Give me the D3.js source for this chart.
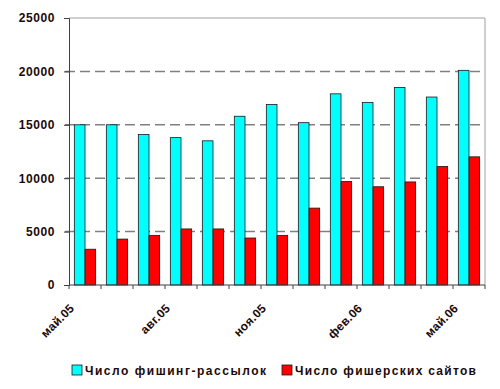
<!DOCTYPE html>
<html>
<head>
<meta charset="utf-8">
<script src="https://cdn.jsdelivr.net/npm/d3@7"></script>
<style>
  body { margin: 0; background: #fff; }
  text { font-family: Arial, "Liberation Sans", sans-serif; }
</style>
</head>
<body>
<div id="chart"></div>
<script>
const months = ['май.05', 'июн.05', 'июл.05', 'авг.05', 'сен.05', 'окт.05', 'ноя.05',
    'дек.05', 'янв.06', 'фев.06', 'мар.06', 'апр.06', 'май.06'];
const mailings = [15000, 15000, 14100, 13800, 13500, 15800, 16900, 15200, 17900, 17100, 18500, 17600, 20100];
const sites = [3350, 4300, 4650, 5250, 5250, 4400, 4650, 7200, 9700, 9200, 9650, 11100, 12000];
const yTicks = [0, 5000, 10000, 15000, 20000, 25000];
const seriesNames = ['Число фишинг-рассылок', 'Число фишерских сайтов'];
const seriesColors = ['#00ffff', '#ff0000'];

const width = 500, height = 389;
const margin = { top: 18, right: 15, bottom: 104, left: 69 };
const innerW = width - margin.left - margin.right;
const innerH = height - margin.top - margin.bottom;

const svg = d3.select('#chart').append('svg')
    .attr('width', width)
    .attr('height', height);

const chart = svg.append('g')
    .attr('transform', `translate(${margin.left},${margin.top})`);

const xScale = d3.scaleBand()
    .domain(months)
    .range([0, innerW])
    .paddingInner(0)
    .paddingOuter(0);

const xSub = d3.scaleBand()
    .domain([0, 1])
    .range([0, xScale.bandwidth()])
    .paddingOuter(0.5)
    .paddingInner(0);

const yScale = d3.scaleLinear()
    .domain([0, 25000])
    .range([innerH, 0]);

// dashed gridlines
chart.selectAll('.grid')
    .data(yTicks.filter(t => t > 0 && t < 25000))
    .join('line')
    .attr('class', 'grid')
    .attr('x1', -4)
    .attr('x2', innerW)
    .attr('y1', d => yScale(d))
    .attr('y2', d => yScale(d))
    .attr('stroke', '#808080')
    .attr('stroke-width', 1.5)
    .attr('stroke-dasharray', '10,5');

// plot area border top/right
chart.append('path')
    .attr('d', `M0,0H${innerW}V${innerH}`)
    .attr('fill', 'none')
    .attr('stroke', '#a0a0a0')
    .attr('stroke-width', 1);

const data = months.map((m, i) => ({ month: m, values: [mailings[i], sites[i]] }));

const groups = chart.selectAll('.month')
    .data(data)
    .join('g')
    .attr('class', 'month')
    .attr('transform', d => `translate(${xScale(d.month)},0)`);

groups.selectAll('rect')
    .data(d => d.values.map((v, k) => ({ k, v })))
    .join('rect')
    .attr('x', d => xSub(d.k))
    .attr('width', xSub.bandwidth())
    .attr('y', d => yScale(d.v))
    .attr('height', d => innerH - yScale(d.v))
    .attr('fill', d => seriesColors[d.k])
    .attr('stroke', '#1a1a1a')
    .attr('stroke-width', 0.8);

// y axis
const yAxis = d3.axisLeft(yScale)
    .tickValues(yTicks)
    .tickFormat(d3.format('d'))
    .tickSize(5)
    .tickPadding(9);

const yAxisGroup = chart.append('g').call(yAxis);
yAxisGroup.select('.domain').attr('stroke', '#404040');
yAxisGroup.selectAll('.tick line').attr('stroke', '#404040');
yAxisGroup.selectAll('.tick text')
    .style('font-size', '12px')
    .style('font-weight', 'bold')
    .style('letter-spacing', '0.6px')
    .attr('fill', '#1a0a0a');

// x axis: ticks at category boundaries
const xAxisGroup = chart.append('g')
    .attr('transform', `translate(0,${innerH})`);

xAxisGroup.append('line')
    .attr('x1', 0)
    .attr('x2', innerW)
    .attr('stroke', '#404040');

xAxisGroup.selectAll('.xtick')
    .data(months.concat(['end']))
    .join('line')
    .attr('class', 'xtick')
    .attr('x1', (d, i) => i * xScale.step())
    .attr('x2', (d, i) => i * xScale.step())
    .attr('y1', 0)
    .attr('y2', 4)
    .attr('stroke', '#404040');

xAxisGroup.selectAll('.xlabel')
    .data(months.filter((d, i) => i % 3 === 0))
    .join('text')
    .attr('class', 'xlabel')
    .attr('transform', d => `translate(${xScale(d) + xScale.bandwidth() / 2 - 10},24) rotate(-45)`)
    .attr('text-anchor', 'end')
    .style('font-size', '12px')
    .style('font-weight', 'bold')
    .style('letter-spacing', '0.3px')
    .attr('fill', '#1a0a0a')
    .text(d => d);

// legend
const legend = svg.append('g')
    .attr('transform', 'translate(72,365)');

const legendX = [0, 210];
const items = legend.selectAll('.item')
    .data(seriesNames)
    .join('g')
    .attr('class', 'item')
    .attr('transform', (d, i) => `translate(${legendX[i]},0)`);

items.append('rect')
    .attr('width', 10)
    .attr('height', 10)
    .attr('fill', (d, i) => seriesColors[i])
    .attr('stroke', '#1a1a1a')
    .attr('stroke-width', 0.8);

items.append('text')
    .attr('x', 13)
    .attr('y', 10)
    .attr('textLength', 181)
    .attr('lengthAdjust', 'spacing')
    .style('font-size', '12px')
    .style('font-weight', 'bold')
    .attr('fill', '#1a0a0a')
    .text(d => d);
</script>
</body>
</html>
